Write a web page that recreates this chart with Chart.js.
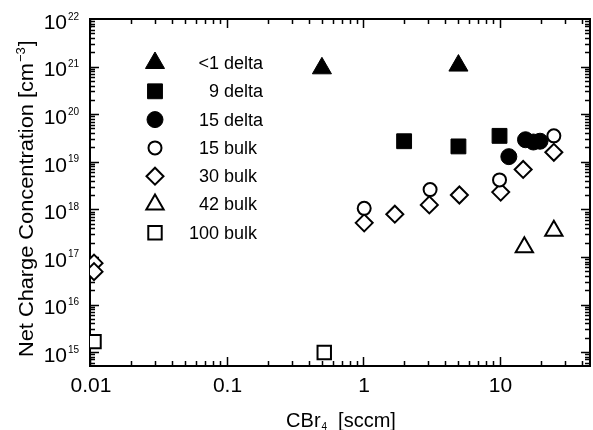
<!DOCTYPE html>
<html lang="en">
<head>
    <meta charset="UTF-8">
    <title>Net Charge Concentration vs CBr4</title>
    <style>
        body {
            margin: 0;
            padding: 0;
            background: #fff;
        }
        canvas {
            display: block;
        }
    </style>
</head>
<body>
    <canvas id="chart" width="593" height="430"></canvas>
    <script src="https://cdn.jsdelivr.net/npm/chart.js"></script>
    <script>
        // CBr4 flow (sccm) vs net charge concentration (cm^-3)
        const lt1DeltaX = [0.5, 5];
        const lt1DeltaY = [9.2e20, 1.05e21];
        const delta9X = [2, 5, 10];
        const delta9Y = [2.7e19, 2.1e19, 3.5e19];
        const delta15X = [11.7, 15.5, 17.7, 19.8];
        const delta15Y = [1.28e19, 2.9e19, 2.6e19, 2.7e19];
        const bulk15X = [1.02, 3.1, 10, 25];
        const bulk15Y = [1.05e18, 2.6e18, 4.15e18, 3.5e19];
        const bulk30X = [0.0107, 0.0107, 1.02, 1.71, 3.06, 5.08, 10.2, 14.9, 25];
        const bulk30Y = [7.4e16, 4.9e16, 5.2e17, 7.9e17, 1.24e18, 2.0e18, 2.3e18, 6.9e18, 1.58e19];
        const bulk42X = [15.2, 25];
        const bulk42Y = [1.6e17, 3.55e17];
        const bulk100X = [0.0107, 0.52];
        const bulk100Y = [1.66e15, 9.8e14];

        const xTickValues = [0.01, 0.1, 1, 10];
        const xTickLabels = ['0.01', '0.1', '1', '10'];
        const yTickExponents = [15, 16, 17, 18, 19, 20, 21, 22];

        const FONT = '"Liberation Sans", Arial, sans-serif';

        function pairs(xs, ys) {
            return xs.map((x, i) => ({ x: x, y: ys[i] }));
        }

        function series(label, xs, ys, style, radius, filled) {
            return {
                label: label,
                data: pairs(xs, ys),
                pointStyle: style,
                pointRadius: radius,
                pointBackgroundColor: filled ? '#000' : '#fff',
                pointBorderColor: '#000',
                pointBorderWidth: filled ? 1 : 2,
                showLine: false,
                clip: 0
            };
        }

        const datasets = [
            series('<1 delta', lt1DeltaX, lt1DeltaY, 'triangle', 11, true),
            series('9 delta', delta9X, delta9Y, 'rect', 10.5, true),
            series('15 delta', delta15X, delta15Y, 'circle', 8, true),
            series('15 bulk', bulk15X, bulk15Y, 'circle', 6.5, false),
            series('30 bulk', bulk30X, bulk30Y, 'rectRot', 8.5, false),
            series('42 bulk', bulk42X, bulk42Y, 'triangle', 10, false),
            series('100 bulk', bulk100X, bulk100Y, 'rect', 9.5, false)
        ];

        // box frame with inward log ticks on all four sides
        const framePlugin = {
            id: 'frame',
            beforeDatasetsDraw(chart) {
                const ctx = chart.ctx;
                const a = chart.chartArea;
                const xs = chart.scales.x;
                const ys = chart.scales.y;
                ctx.save();
                ctx.strokeStyle = '#000';
                ctx.lineWidth = 1.5;
                ctx.beginPath();
                for (let k = -2; k <= 1; k++) {
                    for (let m = 1; m <= 9; m++) {
                        const v = m * Math.pow(10, k);
                        if (v < xs.min || v > xs.max) continue;
                        const px = Math.round(xs.getPixelForValue(v)) + 0.5;
                        const len = m === 1 ? 9 : 5;
                        ctx.moveTo(px, a.bottom); ctx.lineTo(px, a.bottom - len);
                        ctx.moveTo(px, a.top); ctx.lineTo(px, a.top + len);
                    }
                }
                for (let k = 14; k <= 21; k++) {
                    for (let m = 1; m <= 9; m++) {
                        const v = m * Math.pow(10, k);
                        if (v < ys.min || v > ys.max) continue;
                        const py = Math.round(ys.getPixelForValue(v)) + 0.5;
                        const len = m === 1 ? 9 : 5;
                        ctx.moveTo(a.left, py); ctx.lineTo(a.left + len, py);
                        ctx.moveTo(a.right, py); ctx.lineTo(a.right - len, py);
                    }
                }
                ctx.stroke();
                ctx.lineWidth = 2;
                ctx.strokeRect(a.left, a.top, a.right - a.left, a.bottom - a.top);
                ctx.restore();
            },
            afterDraw(chart) {
                const ctx = chart.ctx;
                const xs = chart.scales.x;
                const ys = chart.scales.y;
                ctx.save();
                ctx.fillStyle = '#000';

                // x tick labels
                ctx.font = '21px ' + FONT;
                ctx.textAlign = 'center';
                ctx.textBaseline = 'middle';
                xTickValues.forEach((v, i) => {
                    ctx.fillText(xTickLabels[i], xs.getPixelForValue(v) + 1, 386);
                });

                // y tick labels as 10^n
                yTickExponents.forEach(e => {
                    const py = ys.getPixelForValue(Math.pow(10, e));
                    ctx.font = '21px ' + FONT;
                    ctx.textAlign = 'right';
                    ctx.textBaseline = 'middle';
                    ctx.fillText('10', 67, py + 4);
                    ctx.font = '10px ' + FONT;
                    ctx.textAlign = 'left';
                    ctx.textBaseline = 'alphabetic';
                    ctx.fillText(String(e), 68, py + 0.5);
                });

                // x axis title: CBr4 [sccm]
                ctx.textAlign = 'left';
                ctx.textBaseline = 'alphabetic';
                ctx.font = '20px ' + FONT;
                const wMain = ctx.measureText('CBr').width;
                const wUnit = ctx.measureText('[sccm]').width;
                ctx.font = '10px ' + FONT;
                const wSub = ctx.measureText('4').width;
                const gap = 12;
                let tx = 341 - (wMain + wSub + gap + wUnit) / 2;
                ctx.font = '20px ' + FONT;
                ctx.fillText('CBr', tx, 427);
                tx += wMain + 1;
                ctx.font = '10px ' + FONT;
                ctx.fillText('4', tx, 430);
                tx += wSub + gap - 1;
                ctx.font = '20px ' + FONT;
                ctx.fillText('[sccm]', tx, 427);

                // y axis title, rotated, reads bottom to top
                ctx.save();
                ctx.translate(33, 357);
                ctx.rotate(-Math.PI / 2);
                ctx.font = '21px ' + FONT;
                const base = 'Net Charge Concentration [cm';
                const baseW = ctx.measureText(base).width;
                ctx.save();
                ctx.scale(294 / baseW, 1);
                ctx.fillText(base, 0, 0);
                ctx.restore();
                ctx.font = '13px ' + FONT;
                const sup = '\u22123';
                ctx.fillText(sup, 295, -8);
                const supW = ctx.measureText(sup).width;
                ctx.font = '21px ' + FONT;
                ctx.fillText(']', 296 + supW, 0);
                ctx.restore();

                // legend inside the plot
                const rowY = 63;
                const rowStep = 28.3;
                chart.data.datasets.forEach((ds, i) => {
                    const cy = rowY + i * rowStep;
                    ctx.fillStyle = ds.pointBackgroundColor;
                    ctx.strokeStyle = ds.pointBorderColor;
                    ctx.lineWidth = ds.pointBorderWidth;
                    Chart.helpers.drawPoint(ctx, {
                        pointStyle: ds.pointStyle,
                        radius: ds.pointRadius,
                        rotation: 0,
                        borderWidth: ds.pointBorderWidth
                    }, 155, cy);
                    const parts = ds.label.split(' ');
                    ctx.fillStyle = '#000';
                    ctx.font = '18px ' + FONT;
                    ctx.textBaseline = 'middle';
                    ctx.textAlign = 'right';
                    ctx.fillText(parts[0], 219, cy + 1);
                    ctx.textAlign = 'left';
                    ctx.fillText(parts[1], 224, cy + 1);
                });
                ctx.restore();
            }
        };

        new Chart(document.getElementById('chart'), {
            type: 'scatter',
            data: { datasets: datasets },
            options: {
                responsive: false,
                animation: false,
                layout: {
                    autoPadding: false,
                    padding: { left: 90, right: 3, top: 19, bottom: 64 }
                },
                scales: {
                    x: { type: 'logarithmic', min: 0.01, max: 46, display: false },
                    y: { type: 'logarithmic', min: 5.1e14, max: 1e22, display: false }
                },
                plugins: {
                    legend: { display: false },
                    tooltip: { enabled: false }
                }
            },
            plugins: [framePlugin]
        });
    </script>
</body>
</html>
